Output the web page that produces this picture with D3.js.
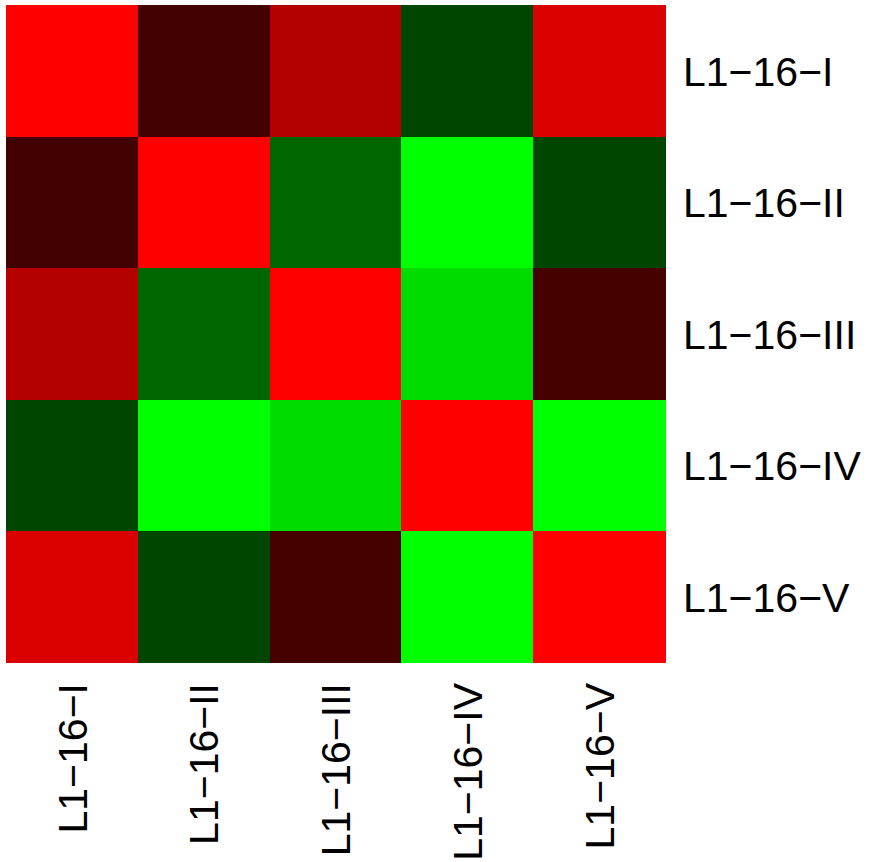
<!DOCTYPE html>
<html>
<head>
<meta charset="utf-8">
<script src="https://cdn.jsdelivr.net/npm/d3@7"></script>
<style>
  body { margin: 0; background: #fff; }
  text { font-family: "Liberation Sans", Arial, sans-serif; fill: #000; }
</style>
</head>
<body>
<svg width="877" height="862"></svg>
<script>
var labels = ["L1\u221216\u2212I", "L1\u221216\u2212II", "L1\u221216\u2212III", "L1\u221216\u2212IV", "L1\u221216\u2212V"];

// correlation values, row by row (rows top to bottom, columns left to right)
var row1 = [1.00, 0.26, 0.71, -0.27, 0.86];
var row2 = [0.26, 1.00, -0.40, -1.00, -0.27];
var row3 = [0.71, -0.40, 1.00, -0.86, 0.28];
var row4 = [-0.27, -1.00, -0.86, 1.00, -1.00];
var row5 = [0.86, -0.27, 0.28, -1.00, 1.00];
var rows = [row1, row2, row3, row4, row5];

var svg = d3.select("svg");

var x = d3.scaleBand().domain(labels).range([6, 665]);
var y = d3.scaleBand().domain(labels).range([5, 662.5]);

var color = d3.scaleLinear()
  .domain([-1, 0, 1])
  .range(["#00ff00", "#000000", "#ff0000"]); // green - black - red

var cells = [];
rows.forEach(function(r, i) {
  r.forEach(function(v, j) {
    cells.push({ row: labels[i], col: labels[j], value: v });
  });
});

svg.append("g")
  .selectAll("rect")
  .data(cells)
  .enter().append("rect")
  .attr("x", function(d) { return x(d.col); })
  .attr("y", function(d) { return y(d.row); })
  .attr("width", x.bandwidth() + 0.5)
  .attr("height", y.bandwidth() + 0.5)
  .attr("fill", function(d) { return color(d.value); })
  .attr("shape-rendering", "crispEdges");

// row labels on the right
svg.append("g")
  .selectAll("text")
  .data(labels)
  .enter().append("text")
  .attr("x", 683)
  .attr("y", function(d) { return y(d) + y.bandwidth() / 2; })
  .attr("dy", "0.36em")
  .attr("font-size", 41)
  .text(function(d) { return d; });

// column labels below, rotated
svg.append("g")
  .selectAll("text")
  .data(labels)
  .enter().append("text")
  .attr("transform", function(d) {
    return "translate(" + (x(d) + x.bandwidth() / 2) + ",683) rotate(-90)";
  })
  .attr("text-anchor", "end")
  .attr("dy", "0.36em")
  .attr("font-size", 41)
  .text(function(d) { return d; });
</script>
</body>
</html>
